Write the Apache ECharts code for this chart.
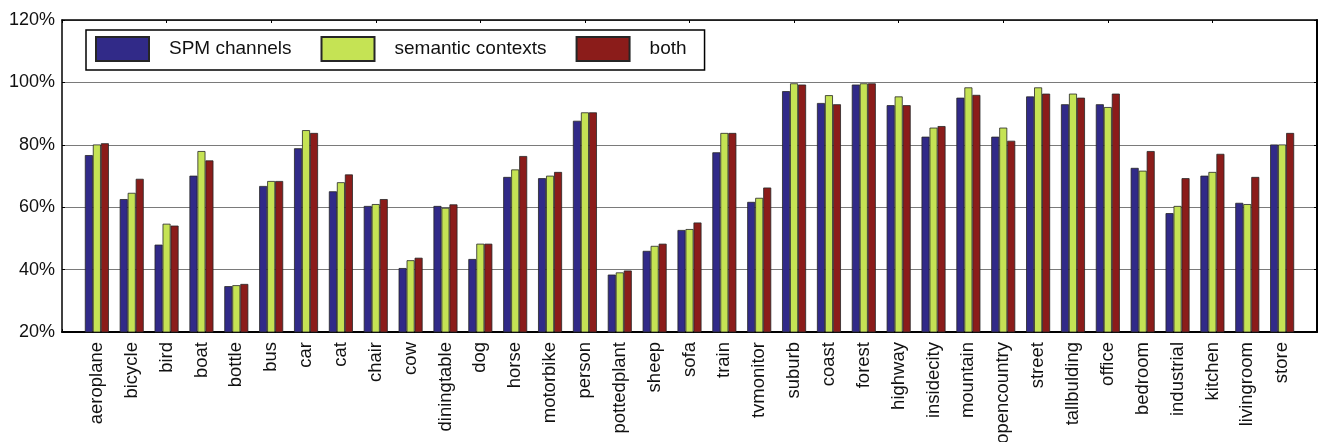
<!DOCTYPE html>
<html>
<head>
<meta charset="utf-8">
<title>Classification accuracy per category</title>
<script src="https://cdn.jsdelivr.net/npm/echarts@6/dist/echarts.min.js"></script>
<style>
  html, body { margin: 0; padding: 0; background: #fff; }
  #chart { width: 1320px; height: 442px; }
</style>
</head>
<body>
<div id="chart"></div>
<script>
// Categories: PASCAL VOC object classes followed by scene classes
const categories = [
  'aeroplane', 'bicycle', 'bird', 'boat', 'bottle', 'bus', 'car', 'cat', 'chair', 'cow',
  'diningtable', 'dog', 'horse', 'motorbike', 'person', 'pottedplant', 'sheep', 'sofa',
  'train', 'tvmonitor', 'suburb', 'coast', 'forest', 'highway', 'insidecity', 'mountain',
  'opencountry', 'street', 'tallbulding', 'office', 'bedroom', 'industrial', 'kitchen',
  'livingroom', 'store'
];

// Accuracy (%) per category
const spmChannels = [
  76.7, 62.6, 48.0, 70.1, 34.7, 66.8, 78.9, 65.1, 60.4, 40.5,
  60.4, 43.4, 69.7, 69.3, 87.7, 38.4, 46.0, 52.7, 77.6, 61.7,
  97.2, 93.4, 99.3, 92.7, 82.6, 95.1, 82.6, 95.5, 93.0, 93.0,
  72.6, 58.1, 70.1, 61.4, 80.1
];
const semanticContexts = [
  80.1, 64.6, 54.7, 78.0, 35.0, 68.4, 84.7, 68.0, 61.0, 43.0,
  59.8, 48.3, 72.1, 70.1, 90.4, 39.1, 47.6, 53.0, 83.8, 63.0,
  99.7, 95.9, 99.7, 95.5, 85.5, 98.4, 85.5, 98.4, 96.4, 92.1,
  71.7, 60.4, 71.3, 61.0, 80.1
];
const both = [
  80.5, 69.1, 54.1, 75.0, 35.4, 68.4, 83.8, 70.5, 62.6, 43.8,
  60.9, 48.3, 76.4, 71.3, 90.4, 39.7, 48.3, 55.1, 83.8, 66.3,
  99.3, 93.0, 99.7, 92.7, 86.0, 96.0, 81.3, 96.4, 95.1, 96.4,
  78.0, 69.3, 77.1, 69.7, 83.8
];

// Y axis range and step (percent)
const yMin = 20, yMax = 120, yStep = 20;

// The x range runs from 0 to categories.length + 1, with the classes at 1..N
const axisData = [''].concat(categories, ['']);
const pad = arr => [null].concat(arr, [null]);

const font = 'Liberation Sans, Arial, Helvetica, sans-serif';
const chart = echarts.init(document.getElementById('chart'), null, { renderer: 'canvas' });

const barEdge = { borderColor: '#262626', borderWidth: 0.8 };

chart.setOption({
  animation: false,
  backgroundColor: '#ffffff',
  textStyle: { fontFamily: font },
  grid: { left: 62, right: 3, top: 20, bottom: 110, containLabel: false, outerBoundsMode: 'none' },
  legend: {
    left: 86,
    top: 30,
    orient: 'horizontal',
    padding: [6, 18, 8, 9],
    borderColor: '#000',
    borderWidth: 1.5,
    backgroundColor: '#fff',
    itemWidth: 53,
    itemHeight: 24,
    itemGap: 29,
    icon: 'rect',
    textStyle: { fontSize: 19, color: '#111', fontFamily: font, padding: [0, 0, 0, 15] },
    data: ['SPM channels', 'semantic contexts', 'both']
  },
  xAxis: [
    {
      type: 'category',
      data: axisData,
      boundaryGap: false,
      axisLine: { lineStyle: { color: '#000', width: 2 } },
      axisTick: { inside: true, length: 3, lineStyle: { color: '#000' } },
      axisLabel: {
        rotate: 90, interval: 0, margin: 10,
        fontSize: 18.5, color: '#111', fontFamily: font
      },
      splitLine: { show: false }
    },
    {
      type: 'category',
      data: axisData,
      boundaryGap: false,
      position: 'top',
      axisLine: { lineStyle: { color: '#000', width: 1.5 } },
      axisTick: { inside: true, length: 3, lineStyle: { color: '#000' } },
      axisLabel: { show: false },
      splitLine: { show: false }
    }
  ],
  yAxis: [
    {
      type: 'value',
      min: yMin, max: yMax, interval: yStep,
      axisLine: { show: true, lineStyle: { color: '#000', width: 1.5 } },
      axisTick: { show: true, inside: true, length: 3, lineStyle: { color: '#000' } },
      axisLabel: {
        formatter: v => v + '%', margin: 7,
        fontSize: 18, color: '#111', fontFamily: font
      },
      splitLine: { show: true, lineStyle: { color: '#7a7a7a', width: 1.2 } }
    },
    {
      type: 'value',
      position: 'right',
      min: yMin, max: yMax, interval: yStep,
      axisLine: { show: true, lineStyle: { color: '#000', width: 2 } },
      axisTick: { show: true, inside: true, length: 3, lineStyle: { color: '#000' } },
      axisLabel: { show: false },
      splitLine: { show: false }
    }
  ],
  series: [
    {
      name: 'SPM channels', type: 'bar', xAxisIndex: 0, yAxisIndex: 0,
      data: pad(spmChannels), barWidth: 8, barGap: '0%',
      itemStyle: Object.assign({ color: '#312a88' }, barEdge)
    },
    {
      name: 'semantic contexts', type: 'bar', xAxisIndex: 0, yAxisIndex: 0,
      data: pad(semanticContexts), barWidth: 8, barGap: '0%',
      itemStyle: Object.assign({ color: '#c5e354' }, barEdge)
    },
    {
      name: 'both', type: 'bar', xAxisIndex: 0, yAxisIndex: 0,
      data: pad(both), barWidth: 8, barGap: '0%',
      itemStyle: Object.assign({ color: '#8b1c1a' }, barEdge)
    }
  ]
});
</script>
</body>
</html>
